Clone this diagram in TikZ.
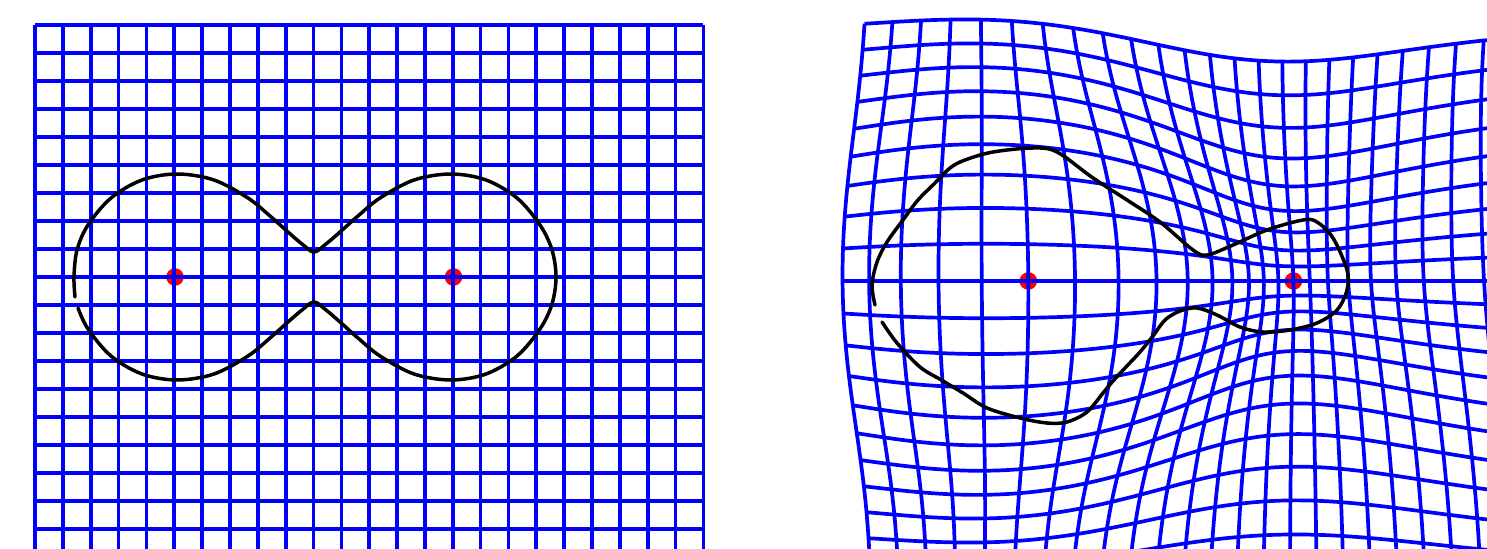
\documentclass[tikz,border=0pt]{standalone}
\tikzset{
  gridline/.style={draw=blue, line width=1.85pt, line cap=square, line join=round},
  curveline/.style={draw=black, line width=1.75pt, line cap=round, line join=round},
  dotmark/.style={fill=red},
}
\begin{document}
\begin{tikzpicture}[x=0.5pt, y=-0.5pt,
  declare function={
    gA(\a,\b)=exp(-(((\a-5)*(\a-5))/28.9+((\b-9)*(\b-9))/40.5));
    gB(\a,\b)=exp(-(((\a-15)*(\a-15))+((\b-9)*(\b-9)))/60.5);
    rX(\a,\b)=-(4+20/(1+exp(-(\a-18)/2.2)))*exp(-(\b*\b)/40.5);
    mx(\a,\b)=872+27.85*\a+15.32*(\a-5)*gA(\a,\b)-9.19*(\a-15)*gB(\a,\b)+rX(\a,\b);
    my(\a,\b)=29+28*\b+11.76*(\b-9)*gA(\a,\b)-14*(\b-9)*gB(\a,\b);
  }]
\useasboundingbox (0,0) rectangle (1487,549);
\clip (0,0) rectangle (1487,549);

% ---------- left panel ----------
\fill[dotmark] (175,277) circle (4.4pt);
\fill[dotmark] (453.5,277) circle (4.4pt);
\foreach \i in {0,...,24}
  \draw[gridline] ({35+27.85*\i},25) -- ({35+27.85*\i},570);
\foreach \i in {0,...,18}
  \draw[gridline] (35,{25+28*\i}) -- (703.4,{25+28*\i});
\draw[curveline, shift={(314,277)}] plot[smooth, tension=0.55] coordinates {
  (-236,31) (-226,52) (-203,79) (-172,97) (-137,103) (-100,97) (-66,79) (-44,61)
  (-26,45) (-12,33) (0,25) (12,33) (26,45) (44,61) (66,79) (100,97) (137,103)
  (172,97) (203,79) (226,52) (238,27) (242,0) (238,-27) (226,-52) (203,-79)
  (172,-97) (137,-103) (100,-97) (66,-79) (44,-61) (26,-45) (12,-33) (0,-25)
  (-12,-33) (-26,-45) (-44,-61) (-66,-79) (-100,-97) (-137,-103) (-172,-97)
  (-203,-79) (-226,-52) (-237,-27) (-240,0) (-239,20)};

% ---------- right panel ----------
\fill[dotmark] ({mx(5,9)},{my(5,9)}) circle (4.4pt);
\fill[dotmark] ({mx(15,9)},{my(15,9)}) circle (4.4pt);
\foreach \i in {0,...,24}
  \draw[gridline] plot[smooth, domain=0:21, samples=43, variable=\t] ({mx(\i,\t)},{my(\i,\t)});
\foreach \j in {0,...,21}
  \draw[gridline] plot[smooth, domain=0:24, samples=49, variable=\t] ({mx(\t,\j)},{my(\t,\j)});
\draw[curveline] plot[smooth, tension=0.55] coordinates {
  (882,322) (897,343) (920,367) (943,381) (963,393) (987,408) (1020,418) (1047,423)
  (1067,422) (1087,412) (1103,393) (1113,381) (1125,368) (1140,352) (1153,336)
  (1165,320) (1180,311) (1197,308) (1217,315) (1240,327) (1263,332) (1290,330)
  (1317,323) (1337,310) (1347,290) (1347,270) (1333,238) (1317,222) (1303,220)
  (1267,230) (1233,245) (1207,255) (1193,250) (1160,222) (1127,200) (1093,178)
  (1057,152) (1033,148) (993,152) (965,160) (950,168) (935,183) (918,200)
  (903,220) (887,242) (877,262) (872,285) (875,305)};
\end{tikzpicture}
\end{document}
